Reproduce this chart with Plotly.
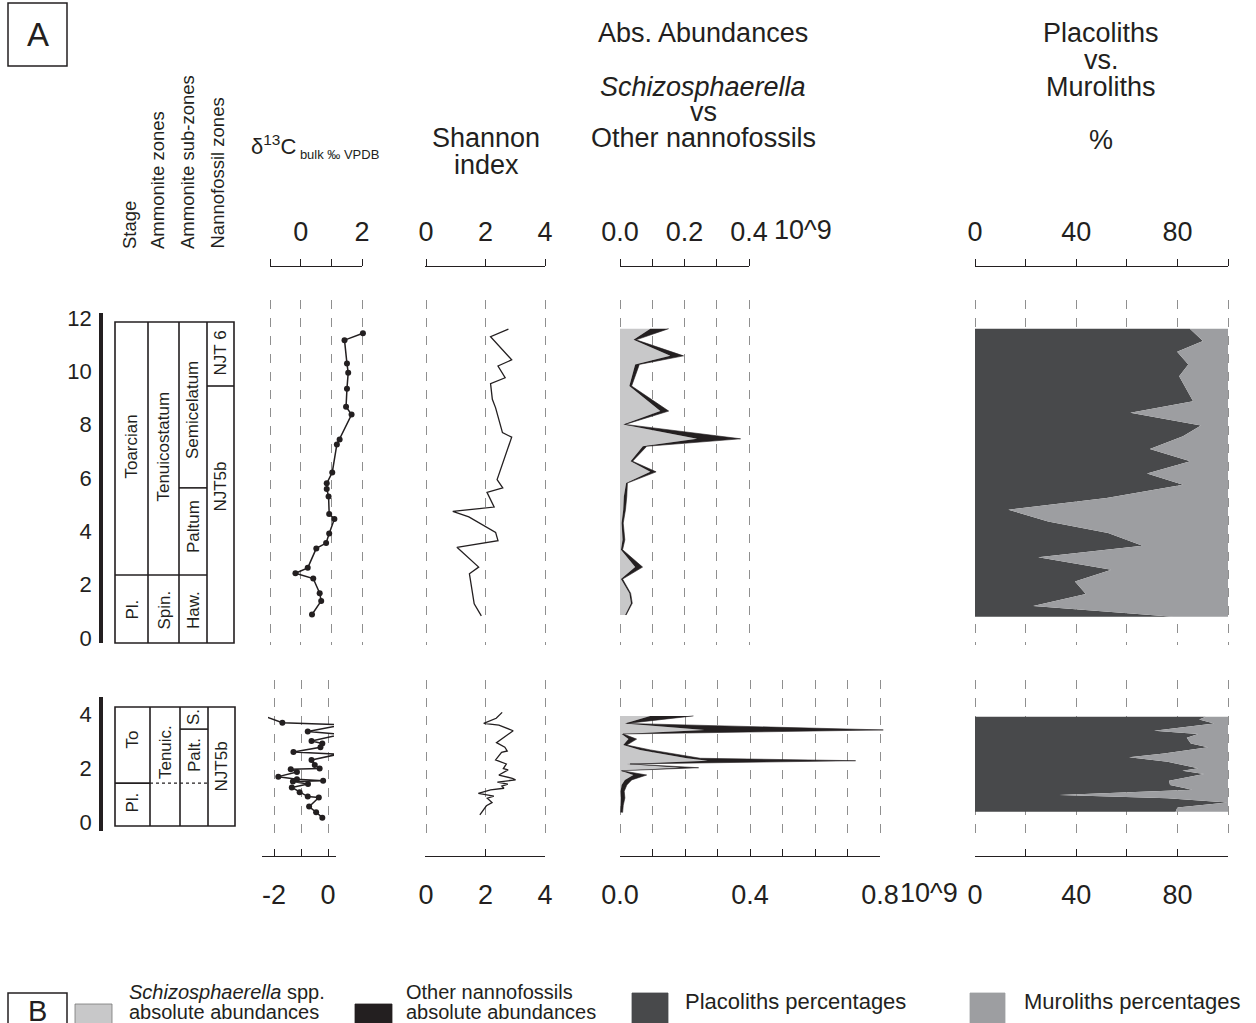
import plotly.graph_objects as go

W, H = 1256, 1023
FONT = "Liberation Sans, Arial, Helvetica, sans-serif"
INK = "#231f20"
GRID = "#8f8f8f"
C_SCHIZO = "#c8c8c9"
C_OTHER = "#231f20"
C_PLAC = "#48494b"
C_MURO = "#9d9ea1"

# ---------------- data: upper section (depth in m) ----------------
top_d13c_depth = [11.43, 11.17, 10.29, 9.95, 9.35, 8.67, 8.38, 7.44, 7.26, 6.21, 5.80, 5.59,
                  5.31, 4.65, 4.46, 3.92, 3.56, 3.36, 2.63, 2.43, 2.23, 1.68, 1.39, 0.88]
top_d13c = [2.03, 1.43, 1.51, 1.55, 1.51, 1.48, 1.66, 1.27, 1.18, 1.03, 0.85, 0.85,
            0.91, 0.93, 1.10, 0.93, 0.83, 0.51, 0.23, -0.17, 0.41, 0.62, 0.67, 0.37]

top_shannon_depth = [11.58, 11.30, 10.43, 10.20, 9.76, 9.54, 8.95, 8.63, 7.70, 7.53, 5.94, 5.63,
                     5.46, 4.91, 4.75, 4.54, 3.96, 3.65, 3.40, 2.66, 2.41, 1.28, 0.83]
top_shannon = [2.77, 2.17, 2.88, 2.42, 2.66, 2.17, 2.23, 2.34, 2.57, 2.88, 2.39, 2.58,
               2.05, 2.29, 0.90, 1.44, 2.34, 2.42, 1.04, 1.77, 1.46, 1.62, 1.86]

top_abund_depth = [11.6, 11.18, 10.58, 10.26, 9.45, 8.51, 8.01, 7.47, 7.19, 6.63, 6.23,
                   5.81, 5.31, 4.81, 4.31, 3.68, 3.31, 2.66, 2.21, 1.68, 1.30, 0.86]
top_schizo = [0.094, 0.042, 0.156, 0.047, 0.029, 0.125, 0.010, 0.239, 0.071, 0.033, 0.094,
              0.019, 0.012, 0.010, 0.005, 0.008, 0.003, 0.047, 0.003, 0.029, 0.034, 0.016]
top_other = [0.057, 0.008, 0.041, 0.013, 0.007, 0.026, 0.006, 0.135, 0.012, 0.006, 0.018,
             0.004, 0.009, 0.007, 0.005, 0.007, 0.005, 0.023, 0.005, 0.004, 0.004, 0.003]

top_pct_depth = [11.6, 11.14, 10.73, 10.26, 9.82, 8.88, 8.45, 7.97, 7.57, 7.09, 6.63, 6.17,
                 5.75, 5.25, 4.81, 4.37, 3.94, 3.46, 3.03, 2.56, 2.12, 1.65, 1.20, 0.80]
top_placoliths = [84.9, 90.1, 79.9, 84.3, 80.7, 86.2, 61.4, 89.3, 82.2, 69.1, 85.1, 68.0,
                  82.2, 52.0, 13.2, 28.9, 52.6, 66.2, 25.0, 53.9, 39.5, 43.8, 23.0, 78.3]

# ---------------- data: lower section (depth in m) ----------------
bot_d13c_depth = [3.93, 3.68, 3.60, 3.35, 3.25, 3.00, 2.91, 2.77, 2.59, 2.51, 2.30, 2.11, 1.98,
                  1.95, 1.85, 1.68, 1.58, 1.53, 1.50, 1.41, 1.28, 1.10, 0.94, 0.91, 0.57, 0.36, 0.16]
bot_d13c = [-2.38, -1.69, 0.54, -0.75, 0.51, -0.61, -0.21, -0.28, -1.28, 0.38, -0.61, -0.49, -0.31,
            -1.38, -1.15, -1.84, -1.15, -0.18, -1.30, -0.74, -1.34, -1.05, -0.75, -0.34, -0.70, -0.44, -0.21]

bot_shannon_depth = [4.06, 3.84, 3.65, 3.59, 3.38, 2.94, 2.77, 2.63, 2.58, 2.30, 2.15, 1.98, 1.93,
                     1.74, 1.62, 1.56, 1.48, 1.40, 1.33, 1.25, 1.19, 1.06, 0.96, 0.88, 0.72, 0.60, 0.26]
bot_shannon = [2.56, 2.36, 1.94, 2.45, 2.93, 2.37, 2.65, 2.73, 2.54, 2.34, 2.70, 2.60, 2.76,
               2.45, 2.90, 3.01, 2.40, 2.75, 2.55, 2.62, 2.17, 1.76, 2.28, 2.06, 2.22, 2.03, 1.81]

bot_abund_depth = [3.93, 3.65, 3.41, 3.26, 3.07, 2.85, 2.67, 2.48, 2.36, 2.27, 2.15, 2.01,
                   1.90, 1.74, 1.56, 1.37, 1.14, 0.89, 0.62, 0.35]
bot_schizo = [0.093, 0.015, 0.260, 0.005, 0.026, 0.010, 0.062, 0.144, 0.206, 0.270, 0.021, 0.185,
              0.002, 0.041, 0.015, 0.005, 0.002, 0.003, 0.002, 0.001]
bot_other = [0.133, 0.006, 0.550, 0.005, 0.025, 0.011, 0.031, 0.041, 0.041, 0.455, 0.010, 0.057,
             0.003, 0.041, 0.021, 0.016, 0.011, 0.012, 0.008, 0.007]

bot_pct_depth = [3.90, 3.80, 3.65, 3.38, 3.26, 3.12, 2.91, 2.77, 2.54, 2.40, 2.23, 1.99, 1.90,
                 1.78, 1.53, 1.37, 1.19, 1.00, 0.88, 0.72, 0.54, 0.38]
bot_placoliths = [91.2, 88.6, 94.5, 70.8, 88.2, 83.7, 85.3, 92.1, 74.7, 60.9, 76.1, 88.2, 82.0,
                  90.5, 76.7, 77.1, 85.9, 33.3, 76.1, 99.7, 80.0, 79.3]

# ---------------- stratigraphy ----------------
top_strat_top, top_strat_base = 11.85, -0.19
top_pl_toarcian = 2.36
top_paltum_semicelatum = 5.63
top_njt5b_njt6 = 9.45
bot_strat_top, bot_strat_base = 4.26, -0.15
bot_pl_to = 1.44
bot_palt_s = 3.44

# tick labels
top_depth_ticks = [0, 2, 4, 6, 8, 10, 12]
bot_depth_ticks = [0, 2, 4]

# ====================================================================
def X(px):
    return px / W


def Y(py):
    return 1 - py / H


def lin(pa, pb, p0, v0, p1, v1):
    k = (v1 - v0) / (p1 - p0)
    return [v0 + (pa - p0) * k, v0 + (pb - p0) * k]


layout_axes = {}
cnt = {"x": 0, "y": 0}


def new_axis(kind, **kw):
    cnt[kind] += 1
    n = cnt[kind]
    key = f"{kind}axis" if n == 1 else f"{kind}axis{n}"
    kw.setdefault("automargin", False)
    layout_axes[key] = kw
    return kind if n == 1 else f"{kind}{n}"


traces = []
shapes = []
annotations = []

HID = dict(showgrid=False, zeroline=False, showline=False, showticklabels=False, ticks="")
TICKF = dict(size=27, color=INK, family=FONT)

# depth mappings (pixel <-> depth)
TOP_MAP = (638, 0, 318, 12)
BOT_MAP = (822, 0, 714, 4)

yT = new_axis("y", domain=[Y(645), Y(300)], range=lin(645, 300, *TOP_MAP), **HID)
yB = new_axis("y", domain=[Y(835), Y(680)], range=lin(835, 680, *BOT_MAP), **HID)
yDT = new_axis("y", domain=[Y(272), Y(267)], range=[0, 1], visible=False)
yDB = new_axis("y", domain=[Y(856), Y(851)], range=[0, 1], visible=False)


def data_x(yref, p0, v0, p1, v1, grid, pad=6):
    pa, pb = p0 - pad, p1 + pad
    return new_axis("x", domain=[X(pa), X(pb)], range=lin(pa, pb, p0, v0, p1, v1), anchor=yref,
                    showgrid=True, gridcolor=GRID, griddash="dash", gridwidth=1,
                    tickvals=grid, showticklabels=False, ticks="", showline=False, zeroline=False)


def disp_x(yref, side, pa, pb, p0, v0, p1, v1, tickvals, ticktext, standoff):
    xr = new_axis("x", domain=[X(pa), X(pb)], range=lin(pa, pb, p0, v0, p1, v1), anchor=yref,
                  side=side, showline=True, linecolor=INK, linewidth=1.3,
                  ticks="outside" if side == "top" else "inside", ticklen=7, tickwidth=1.3,
                  tickcolor=INK, tickvals=tickvals, ticktext=ticktext,
                  tickfont=TICKF, showgrid=False, zeroline=False,
                  ticklabelstandoff=standoff)
    traces.append(go.Scatter(x=[(v0 + v1) / 2], y=[0.5], xaxis=xr, yaxis=yref, mode="markers",
                             marker=dict(opacity=0), showlegend=False, hoverinfo="skip"))
    return xr


# ---------- panel axes ----------
P_D13_T = (270, -1, 362, 2)
P_SH = (426, 0, 545, 4)
P_AB_T = (620, 0, 749, 0.4)
P_PC = (975, 0, 1228, 100)
P_D13_B = (274, -2, 328, 0)
P_AB_B = (620, 0, 880, 0.8)

abund_grid_t = [0, 0.1, 0.2, 0.3, 0.4]
abund_grid_b = [0, 0.1, 0.2, 0.3, 0.4, 0.5, 0.6, 0.7, 0.8]
pct_grid = [0, 20, 40, 60, 80, 100]

xD13T = data_x(yT, *P_D13_T, [-1, 0, 1, 2])
xSHT = data_x(yT, *P_SH, [0, 2, 4])
xABT = data_x(yT, *P_AB_T, abund_grid_t)
xPCT = data_x(yT, *P_PC, pct_grid)
xD13B = data_x(yB, *P_D13_B, [-2, -1, 0])
xSHB = data_x(yB, *P_SH, [0, 2, 4])
xABB = data_x(yB, *P_AB_B, abund_grid_b)
xPCB = data_x(yB, *P_PC, pct_grid)

TS, BS = 7, 14
disp_x(yDT, "top", 270, 362, *P_D13_T, [-1, 0, 1, 2], ["", "0", "", "2"], TS)
disp_x(yDT, "top", 425, 545, *P_SH, [0, 2, 4], ["0", "2", "4"], TS)
disp_x(yDT, "top", 620, 749, *P_AB_T, abund_grid_t, ["0.0", "", "0.2", "", "0.4"], TS)
disp_x(yDT, "top", 975, 1228, *P_PC, pct_grid, ["0", "", "40", "", "80", ""], TS)
disp_x(yDB, "bottom", 262, 336, *P_D13_B, [-2, -1, 0], ["-2", "", "0"], BS)
disp_x(yDB, "bottom", 425, 545, *P_SH, [0, 2, 4], ["0", "2", "4"], BS)
disp_x(yDB, "bottom", 620, 880, *P_AB_B, abund_grid_b,
       ["0.0", "", "", "", "0.4", "", "", "", "0.8"], BS)
disp_x(yDB, "bottom", 975, 1228, *P_PC, pct_grid, ["0", "", "40", "", "80", ""], BS)

# ---------- depth rulers ----------
for (ptop, pbot, mp, ticks) in [(313, 643, TOP_MAP, top_depth_ticks), (697, 831, BOT_MAP, bot_depth_ticks)]:
    yref = f"y{cnt['y'] + 1}"
    xref = f"x{cnt['x'] + 1}"
    new_axis("y", domain=[Y(pbot), Y(ptop)], range=lin(pbot, ptop, *mp), anchor=xref, side="left",
             showline=True, linecolor=INK, linewidth=3.5, ticks="", tickvals=ticks,
             tickfont=dict(size=22, color=INK, family=FONT), showgrid=False, zeroline=False,
             ticklabelstandoff=3)
    new_axis("x", domain=[X(103), X(107)], range=[0, 1], anchor=yref, visible=False)
    traces.append(go.Scatter(x=[0.5], y=[mp[1]], xaxis=xref, yaxis=yref, mode="markers",
                             marker=dict(opacity=0), showlegend=False, hoverinfo="skip"))

# ---------- stratigraphic columns ----------
xST = new_axis("x", domain=[X(110), X(240)], range=[-5, 125], anchor=yT, visible=False)
xSB = new_axis("x", domain=[X(110), X(240)], range=[-5, 125], anchor=yB, visible=False)
top_cols = [0, 33, 64, 92, 119]
bot_cols = [0, 35, 65, 93, 120]


def sline(xr, yr, x0, y0, x1, y1, dash="solid", w=1.6):
    shapes.append(dict(type="line", xref=xr, yref=yr, x0=x0, y0=y0, x1=x1, y1=y1,
                       line=dict(color=INK, width=w, dash=dash)))


def stext(xr, yr, x, y, t):
    annotations.append(dict(xref=xr, yref=yr, x=x, y=y, text=t, textangle=-90, showarrow=False,
                            font=dict(size=17, color=INK, family=FONT), xanchor="center", yanchor="middle"))


def mid(a, b):
    return (a + b) / 2


# upper
c = top_cols
shapes.append(dict(type="rect", xref=xST, yref=yT, x0=c[0], x1=c[4], y0=top_strat_base, y1=top_strat_top,
                   line=dict(color=INK, width=1.6)))
for cx in c[1:4]:
    sline(xST, yT, cx, top_strat_base, cx, top_strat_top)
sline(xST, yT, c[0], top_pl_toarcian, c[3], top_pl_toarcian)
sline(xST, yT, c[2], top_paltum_semicelatum, c[3], top_paltum_semicelatum)
sline(xST, yT, c[3], top_njt5b_njt6, c[4], top_njt5b_njt6)
stext(xST, yT, mid(c[0], c[1]), 7.16, "Toarcian")
stext(xST, yT, mid(c[0], c[1]), 1.05, "Pl.")
stext(xST, yT, mid(c[1], c[2]), 7.16, "Tenuicostatum")
stext(xST, yT, mid(c[1], c[2]), 1.05, "Spin.")
stext(xST, yT, mid(c[2], c[3]), 8.55, "Semicelatum")
stext(xST, yT, mid(c[2], c[3]), 4.16, "Paltum")
stext(xST, yT, mid(c[2], c[3]), 1.05, "Haw.")
stext(xST, yT, mid(c[3], c[4]), 10.69, "NJT 6")
stext(xST, yT, mid(c[3], c[4]), 5.66, "NJT5b")

# lower
c = bot_cols
shapes.append(dict(type="rect", xref=xSB, yref=yB, x0=c[0], x1=c[4], y0=bot_strat_base, y1=bot_strat_top,
                   line=dict(color=INK, width=1.6)))
for cx in c[1:4]:
    sline(xSB, yB, cx, bot_strat_base, cx, bot_strat_top)
sline(xSB, yB, c[0], bot_pl_to, c[1], bot_pl_to)
sline(xSB, yB, c[1], bot_pl_to, c[3], bot_pl_to, dash="dot", w=1.4)
sline(xSB, yB, c[2], bot_palt_s, c[3], bot_palt_s)
stext(xSB, yB, mid(c[0], c[1]), 3.04, "To")
stext(xSB, yB, mid(c[0], c[1]), 0.70, "Pl.")
stext(xSB, yB, mid(c[1], c[2]), 2.59, "Tenuic.")
stext(xSB, yB, mid(c[2], c[3]), 3.89, "S.")
stext(xSB, yB, mid(c[2], c[3]), 2.48, "Palt.")
stext(xSB, yB, mid(c[3], c[4]), 2.04, "NJT5b")


# ---------- data traces ----------
def d13_trace(x, y, xr, yr):
    traces.append(go.Scatter(x=x, y=y, xaxis=xr, yaxis=yr, mode="lines+markers", cliponaxis=False,
                             line=dict(color=INK, width=1.5), marker=dict(size=6, color=INK),
                             showlegend=False))


def sh_trace(x, y, xr, yr):
    traces.append(go.Scatter(x=x, y=y, xaxis=xr, yaxis=yr, mode="lines", cliponaxis=False,
                             line=dict(color=INK, width=1.3), showlegend=False))


def ab_traces(schizo, other, y, xr, yr):
    total = [s + o for s, o in zip(schizo, other)]
    traces.append(go.Scatter(x=schizo, y=y, xaxis=xr, yaxis=yr, mode="lines", fill="tozerox",
                             fillcolor=C_SCHIZO, line=dict(width=0, color=C_SCHIZO), showlegend=False))
    traces.append(go.Scatter(x=total, y=y, xaxis=xr, yaxis=yr, mode="lines", fill="tonextx",
                             fillcolor=C_OTHER, line=dict(width=0.6, color=C_OTHER), showlegend=False))


def pc_traces(plac, y, xr, yr):
    muro = [100 - p for p in plac]
    stack = [p + m for p, m in zip(plac, muro)]
    traces.append(go.Scatter(x=plac, y=y, xaxis=xr, yaxis=yr, mode="lines", fill="tozerox",
                             fillcolor=C_PLAC, line=dict(width=0, color=C_PLAC), showlegend=False))
    traces.append(go.Scatter(x=stack, y=y, xaxis=xr, yaxis=yr, mode="lines", fill="tonextx",
                             fillcolor=C_MURO, line=dict(width=0, color=C_MURO), showlegend=False))


d13_trace(top_d13c, top_d13c_depth, xD13T, yT)
sh_trace(top_shannon, top_shannon_depth, xSHT, yT)
ab_traces(top_schizo, top_other, top_abund_depth, xABT, yT)
pc_traces(top_placoliths, top_pct_depth, xPCT, yT)
d13_trace(bot_d13c, bot_d13c_depth, xD13B, yB)
sh_trace(bot_shannon, bot_shannon_depth, xSHB, yB)
ab_traces(bot_schizo, bot_other, bot_abund_depth, xABB, yB)
pc_traces(bot_placoliths, bot_pct_depth, xPCB, yB)


# ---------- header text ----------
def ptext(px, py, t, size=27, xa="center", ya="middle", angle=0):
    annotations.append(dict(xref="paper", yref="paper", x=X(px), y=Y(py), text=t, showarrow=False,
                            textangle=angle, xanchor=xa, yanchor=ya,
                            font=dict(size=size, color=INK, family=FONT)))


shapes.append(dict(type="rect", xref="paper", yref="paper", x0=X(8), x1=X(67), y0=Y(66), y1=Y(3),
                   line=dict(color=INK, width=1.5)))
ptext(37.5, 35, "A", size=33)

for px, t in [(129, "Stage"), (157, "Ammonite zones"), (187, "Ammonite sub-zones"), (217, "Nannofossil zones")]:
    ptext(px, 251, t, size=18.5, ya="bottom", angle=-90)

ptext(249, 147, "δ<sup>13</sup>C<sub><span style='font-size:13px'> bulk ‰ VPDB</span></sub>", size=22, xa="left")
ptext(486, 138, "Shannon")
ptext(486, 165, "index")
ptext(703, 33, "Abs. Abundances")
ptext(703, 87, "<i>Schizosphaerella</i>")
ptext(703, 112, "vs")
ptext(703, 138, "Other nannofossils")
ptext(1101, 33, "Placoliths")
ptext(1101, 60, "vs.")
ptext(1101, 87, "Muroliths")
ptext(1101, 140, "%")
ptext(772, 230, "10^9", xa="left")
ptext(898, 893, "10^9", xa="left")

# ---------- legend (panel B) ----------
shapes.append(dict(type="rect", xref="paper", yref="paper", x0=X(8), x1=X(67), y0=Y(1030), y1=Y(993),
                   line=dict(color=INK, width=1.5)))
ptext(37.5, 1011, "B", size=29)
for (x0, x1, y0, col) in [(75, 112, 1004, C_SCHIZO), (355, 392, 1004, C_OTHER),
                          (632, 668, 993, C_PLAC), (970, 1005, 993, C_MURO)]:
    shapes.append(dict(type="rect", xref="paper", yref="paper", x0=X(x0), x1=X(x1), y0=Y(1030), y1=Y(y0),
                       fillcolor=col, line=dict(width=0.8, color="#777777" if col == C_SCHIZO else col)))
LS = 20
ptext(127, 992, "<i>Schizosphaerella</i> spp.", size=LS, xa="left")
ptext(127, 1012, "absolute abundances", size=LS, xa="left")
ptext(404, 992, "Other nannofossils", size=LS, xa="left")
ptext(404, 1012, "absolute abundances", size=LS, xa="left")
ptext(683, 1001, "Placoliths percentages", size=22, xa="left")
ptext(1022, 1001, "Muroliths percentages", size=22, xa="left")

fig = go.Figure(data=traces)
fig.update_layout(template="none", width=W, height=H, margin=dict(l=0, r=0, t=0, b=0, pad=0),
                  autosize=False, paper_bgcolor="white", plot_bgcolor="rgba(0,0,0,0)",
                  font=dict(family=FONT, color=INK, size=22),
                  shapes=shapes, annotations=annotations, showlegend=False, **layout_axes)
fig.write_html("out.html", config={"displayModeBar": False},
               post_script="document.body.style.margin='0';document.body.style.overflow='hidden';")
